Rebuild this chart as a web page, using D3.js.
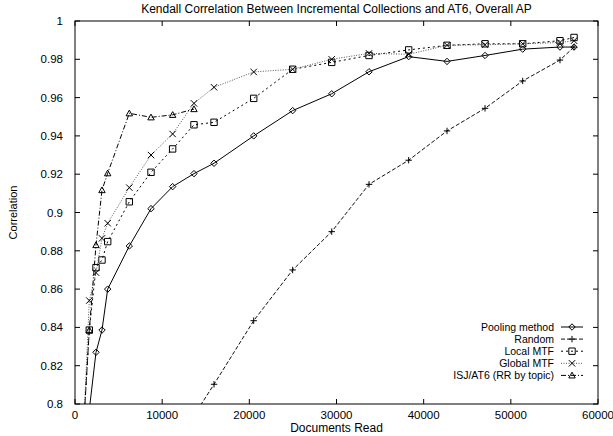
<!DOCTYPE html>
<html><head><meta charset="utf-8">
<script src="https://cdn.jsdelivr.net/npm/d3@7"></script>
<style>body{margin:0;background:#fff}svg{display:block}text{font-family:"Liberation Sans",Arial,sans-serif;font-size:11px;fill:#000}</style>
</head><body>
<script>
const title = "Kendall Correlation Between Incremental Collections and AT6, Overall AP";
const xTicks = [0, 10000, 20000, 30000, 40000, 50000, 60000];
const yTicks = [0.8, 0.82, 0.84, 0.86, 0.88, 0.9, 0.92, 0.94, 0.96, 0.98, 1];
const yTickLabels = ["0.8","0.82","0.84","0.86","0.88","0.9","0.92","0.94","0.96","0.98","1"];

const poolX = [1640, 2409, 3097, 3750, 6230, 8720, 11200, 13650, 15950, 20500, 24970, 29450, 33730, 38280, 42680, 47040, 51360, 55640, 57250];
const poolY = [0.797, 0.827, 0.8386, 0.860, 0.8825, 0.902, 0.9135, 0.9203, 0.9257, 0.940, 0.9532, 0.962, 0.9735, 0.9814, 0.9789, 0.982, 0.9853, 0.9864, 0.9864];
const randX = [13650, 15950, 20500, 24970, 29450, 33730, 38280, 42680, 47040, 51360, 55640, 57250];
const randY = [0.794, 0.8103, 0.8435, 0.870, 0.890, 0.9147, 0.9273, 0.9426, 0.9544, 0.9687, 0.9796, 0.9864];
const mtfX = [1000, 1640, 2409, 3097, 3750, 6230, 8720, 11200, 13650, 15950, 20500, 24970, 29450, 33730, 38280, 42680, 47040, 51360, 55640, 57250];
const localY = [0.789, 0.8386, 0.8712, 0.8752, 0.8848, 0.9056, 0.921, 0.9332, 0.9458, 0.9471, 0.9596, 0.9748, 0.9784, 0.982, 0.9849, 0.9873, 0.9881, 0.9881, 0.9897, 0.9914];
const globalY = [0.789, 0.854, 0.8686, 0.8865, 0.8944, 0.913, 0.930, 0.941, 0.957, 0.9654, 0.9734, 0.9748, 0.9800, 0.9831, 0.9826, 0.9873, 0.9876, 0.9881, 0.9888, 0.9897];
const isjX = [1000, 1640, 2409, 3097, 3750, 6230, 8720, 11200, 13650];
const isjY = [0.789, 0.8386, 0.883, 0.9117, 0.9205, 0.9518, 0.9497, 0.951, 0.954];

const seriesNames = ["Pooling method", "Random", "Local MTF", "Global MTF", "ISJ/AT6 (RR by topic)"];

const W = 613, H = 436;
const L = 75, R = 598, T = 21, B = 404;
const x = d3.scaleLinear().domain([0, 60000]).range([L, R]);
const y = d3.scaleLinear().domain([0.8, 1]).range([B, T]);

const svg = d3.select("body").append("svg").attr("width", W).attr("height", H);
svg.append("defs").append("clipPath").attr("id", "clip")
  .append("rect").attr("x", L).attr("y", T).attr("width", R - L).attr("height", B - T);

const series = [
  {name: seriesNames[0], xs: poolX, ys: poolY, dash: null, color: "#000", marker: "diamond"},
  {name: seriesNames[1], xs: randX, ys: randY, dash: "4,2", color: "#111", marker: "plus"},
  {name: seriesNames[2], xs: mtfX, ys: localY, dash: "2,3", color: "#000", marker: "square"},
  {name: seriesNames[3], xs: mtfX, ys: globalY, dash: "1,1.5", color: "#555", marker: "cross"},
  {name: seriesNames[4], xs: isjX, ys: isjY, dash: "5,2,1,2", color: "#000", marker: "triangle"}
];

function drawMarker(g, type, cx, cy) {
  const s = 3.2;
  let p;
  if (type === "diamond") p = `M${cx},${cy-s}L${cx+s},${cy}L${cx},${cy+s}L${cx-s},${cy}Z`;
  else if (type === "plus") p = `M${cx-s},${cy}H${cx+s}M${cx},${cy-s}V${cy+s}`;
  else if (type === "square") p = `M${cx-s},${cy-s}H${cx+s}V${cy+s}H${cx-s}Z`;
  else if (type === "cross") p = `M${cx-s},${cy-s}L${cx+s},${cy+s}M${cx-s},${cy+s}L${cx+s},${cy-s}`;
  else p = `M${cx},${cy-s}L${cx+s},${cy+s*0.8}L${cx-s},${cy+s*0.8}Z`;
  g.append("path").attr("d", p).attr("fill", "none").attr("stroke", "#000").attr("stroke-width", 1);
}

const axG = svg.append("g");
xTicks.forEach(v => {
  const px = x(v);
  axG.append("line").attr("x1", px).attr("x2", px).attr("y1", B).attr("y2", B - 5).attr("stroke", "#000");
  axG.append("line").attr("x1", px).attr("x2", px).attr("y1", T).attr("y2", T + 5).attr("stroke", "#000");
  axG.append("text").attr("x", px).attr("y", B + 15).attr("text-anchor", "middle").style("font-size", "11.5px").text(String(v));
});
yTicks.forEach((v, i) => {
  const py = y(v);
  axG.append("line").attr("x1", L).attr("x2", L + 5).attr("y1", py).attr("y2", py).attr("stroke", "#000");
  axG.append("line").attr("x1", R).attr("x2", R - 5).attr("y1", py).attr("y2", py).attr("stroke", "#000");
  axG.append("text").attr("x", L - 12).attr("y", py + 4).attr("text-anchor", "end").style("font-size", "11.5px").text(yTickLabels[i]);
});

const plot = svg.append("g").attr("clip-path", "url(#clip)");
const line = d3.line().x(d => x(d[0])).y(d => y(d[1]));
series.forEach(s => {
  const pts = s.xs.map((v, i) => [v, s.ys[i]]);
  plot.append("path").attr("d", line(pts)).attr("fill", "none")
    .attr("stroke", s.color).attr("stroke-width", 1)
    .attr("stroke-dasharray", s.dash);
  pts.forEach(p => drawMarker(plot, s.marker, x(p[0]), y(p[1])));
});

svg.append("rect").attr("x", L).attr("y", T).attr("width", R - L).attr("height", B - T)
  .attr("fill", "none").attr("stroke", "#000").attr("stroke-width", 1);

const lg = svg.append("g");
series.forEach((s, i) => {
  const ly = 327 + i * 12.1;
  lg.append("text").attr("x", 554).attr("y", ly + 3.8).attr("text-anchor", "end").style("font-size", "10.5px").text(s.name);
  lg.append("line").attr("x1", 561).attr("x2", 583).attr("y1", ly).attr("y2", ly)
    .attr("stroke", s.color).attr("stroke-dasharray", s.dash);
  drawMarker(lg, s.marker, 572, ly);
});

svg.append("text").attr("x", (L + R) / 2).attr("y", 13).attr("text-anchor", "middle").style("font-size", "12px").text(title);
svg.append("text").attr("x", (L + R) / 2).attr("y", 432).attr("text-anchor", "middle").style("font-size", "12px").text("Documents Read");
svg.append("text").attr("transform", `translate(17,${(T + B) / 2}) rotate(-90)`).attr("text-anchor", "middle").style("font-size", "11px").text("Correlation");
</script>
</body></html>
